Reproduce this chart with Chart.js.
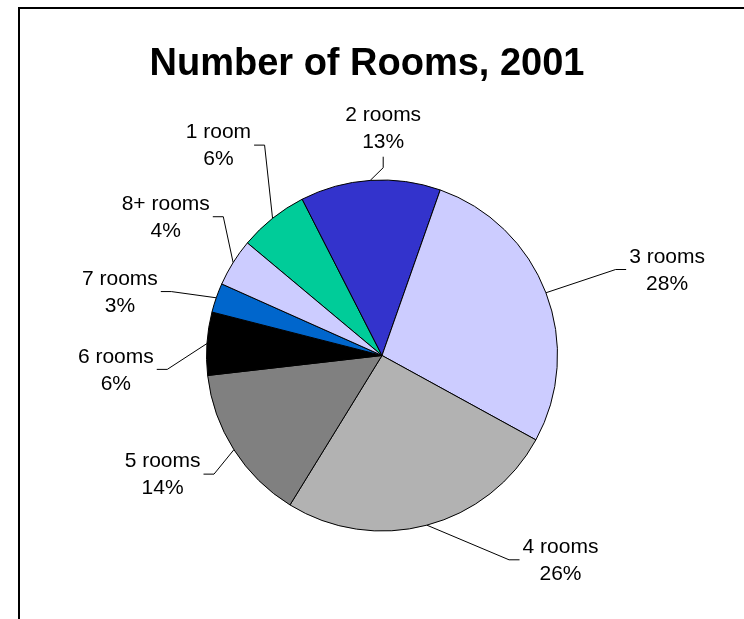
<!DOCTYPE html>
<html><head><meta charset="utf-8">
<script src="https://cdn.jsdelivr.net/npm/chart.js@4.4.1/dist/chart.umd.min.js"></script>
<style>html,body{margin:0;padding:0;background:#fff;} canvas{display:block;}</style>
</head><body>
<canvas id="c" width="744" height="619"></canvas>
<script>
const TITLE = "Number of Rooms, 2001";
const categories = ["1 room", "2 rooms", "3 rooms", "4 rooms", "5 rooms", "6 rooms", "7 rooms", "8+ rooms"];
const shares = [6.4, 12.9, 27.6, 25.8, 14.4, 5.8, 2.7, 4.4];
const colors = ["#00CC99", "#3333CC", "#CCCCFF", "#B2B2B2", "#808080", "#000000", "#0066CC", "#CCCCFF"];

// label placement (style): polar position of each label block, degrees clockwise from top, multiple of radius
const labelAngle = [322, 0.3, 73.4, 139, 241.4, 266.8, 283.5, 302.5];
const labelDist = [1.514, 1.295, 1.695, 1.55, 1.424, 1.519, 1.536, 1.461];

const FONT = '"Liberation Sans", Arial, sans-serif';

const framePlugin = {
  id: 'frame',
  beforeDraw(chart) {
    const ctx = chart.ctx;
    ctx.save();
    ctx.fillStyle = '#fff';
    ctx.fillRect(0, 0, chart.width, chart.height);
    ctx.strokeStyle = '#000';
    ctx.lineWidth = 2;
    ctx.strokeRect(19, 8, 900, 800);
    ctx.restore();
  },
  afterDraw(chart) {
    const ctx = chart.ctx;
    ctx.save();
    ctx.fillStyle = '#000';
    ctx.font = 'bold 38px ' + FONT;
    ctx.textAlign = 'center';
    ctx.textBaseline = 'alphabetic';
    ctx.fillText(TITLE, 367, 75);
    ctx.restore();
  }
};

const labelPlugin = {
  id: 'pieLabels',
  afterDatasetsDraw(chart) {
    const ctx = chart.ctx;
    const meta = chart.getDatasetMeta(0);
    const total = shares.reduce((a, b) => a + b, 0);
    ctx.save();
    ctx.font = '21px ' + FONT;
    ctx.fillStyle = '#000';
    ctx.strokeStyle = '#000';
    ctx.lineWidth = 1;
    const lh = 27;
    meta.data.forEach((arc, i) => {
      const p = arc.getProps(['x', 'y', 'startAngle', 'endAngle', 'outerRadius'], true);
      const mid = (p.startAngle + p.endAngle) / 2;
      const r = p.outerRadius;
      const sx = p.x + r * Math.cos(mid), sy = p.y + r * Math.sin(mid);
      const a = (labelAngle[i] - 90) * Math.PI / 180;
      const bx = p.x + labelDist[i] * r * Math.cos(a);
      const by = p.y + labelDist[i] * r * Math.sin(a);
      const l1 = categories[i];
      const l2 = Math.round(shares[i] / total * 100) + '%';
      const w = Math.max(ctx.measureText(l1).width, ctx.measureText(l2).width);
      ctx.textAlign = 'center';
      ctx.textBaseline = 'middle';
      ctx.fillText(l1, bx, by - lh / 2);
      ctx.fillText(l2, bx, by + lh / 2);
      let ax, ay, ex, ey;
      if (Math.abs(bx - p.x) < 40) {
        ax = bx; ay = by + lh / 2 + 15; ex = ax; ey = ay + 11;
      } else if (bx > p.x) {
        ax = bx - w / 2 - 3; ay = by - 1; ex = ax - 10.5; ey = ay;
      } else {
        ax = bx + w / 2 + 3; ay = by - 1; ex = ax + 10.5; ey = ay;
      }
      ctx.beginPath();
      ctx.moveTo(sx, sy);
      ctx.lineTo(ex, ey);
      ctx.lineTo(ax, ay);
      ctx.stroke();
    });
    ctx.restore();
  }
};

new Chart(document.getElementById('c'), {
  type: 'pie',
  data: {
    labels: categories,
    datasets: [{
      data: shares,
      backgroundColor: colors,
      borderColor: '#000',
      borderWidth: 1
    }]
  },
  options: {
    responsive: false,
    devicePixelRatio: 1,
    animation: false,
    events: [],
    rotation: -50.1,
    layout: { padding: { left: 206, right: 186, top: 179, bottom: 87 } },
    plugins: {
      legend: { display: false },
      title: { display: false },
      tooltip: { enabled: false }
    }
  },
  plugins: [framePlugin, labelPlugin]
});
</script>
</body></html>
